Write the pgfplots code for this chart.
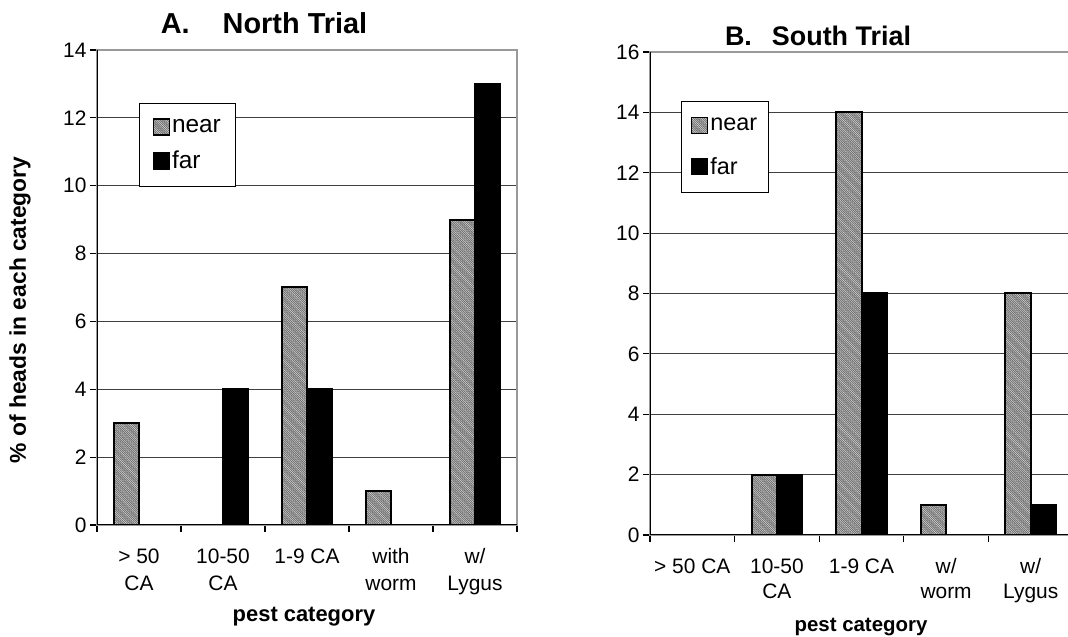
\documentclass[border=0pt]{standalone}
\usepackage{pgfplots}
\pgfplotsset{compat=1.18}
\usepackage{fontspec}
\setmainfont{Liberation Sans}
\usetikzlibrary{patterns}

\pgfdeclarepatternformonly{finehatch}{\pgfqpoint{-1pt}{-1pt}}{\pgfqpoint{3.2pt}{3.2pt}}{\pgfqpoint{2.2pt}{2.2pt}}{%
  \pgfsetlinewidth{0.8pt}%
  \pgfpathmoveto{\pgfqpoint{-0.5pt}{2.7pt}}%
  \pgfpathlineto{\pgfqpoint{2.7pt}{-0.5pt}}%
  \pgfusepath{stroke}}

\pgfplotsset{
  panel/.style={
    scale only axis,
    ybar,
    bar width=0.3,
    xmin=-0.5, xmax=4.5,
    ymin=0,
    xtick={-0.5,0.5,1.5,2.5,3.5,4.5},
    x tick label as interval,
    xtick pos=bottom, ytick pos=left,
    tick align=outside,
    major tick length=7bp,
    tick style={black, line width=1.2bp},
    ymajorgrids,
    major grid style={black!75, line width=1.1bp},
    axis line style={gray!80, line width=1.5bp},
    /pgf/number format/assume math mode=true,
    tick label style={font=\fontsize{21}{27}\selectfont},
    xticklabel style={align=center, anchor=north, yshift=-13bp},
    legend cell align=left,
    legend image code/.code={\draw[#1, line width=1.5bp] (0bp,-8bp) rectangle (16bp,8bp);},
  },
  nearbar/.style={draw=black, line width=2bp, fill=black!12,
    postaction={pattern=finehatch, pattern color=black!55},
    bar shift=-0.15},
  farbar/.style={draw=black, line width=2bp, fill=black, bar shift=0.15},
}

\begin{document}
\begin{tikzpicture}
\path[use as bounding box] (0,0) rectangle (1068bp,637bp);

% ---------- Panel A ----------
\begin{axis}[panel,
  at={(97bp,112bp)}, anchor=south west,
  width=420bp, height=475bp,
  ymax=14, ytick={0,2,...,14},
  xticklabels={{> 50\\CA},{10-50\\CA},{1-9 CA},{with\\worm},{w/\\Lygus}},
  legend style={at={(rel axis cs:0.1,0.888)}, anchor=north west,
    draw=black, line width=1bp, fill=white,
    font=\fontsize{24.5}{28}\selectfont,
    row sep=13bp, inner xsep=13bp, inner ysep=14bp,
    nodes={inner sep=2bp}},
]
\addplot[nearbar] coordinates {(0,3) (2,7) (3,1) (4,9)};
\addplot[farbar] coordinates {(1,4) (2,4) (4,13)};
\legend{near,far}
\draw[black, line width=1.5bp] (rel axis cs:0,1) -- (rel axis cs:0,0) -- (rel axis cs:1,0);
\end{axis}

% ---------- Panel B ----------
\begin{axis}[panel,
  at={(650bp,102bp)}, anchor=south west,
  width=423bp, height=483bp,
  ymax=16, ytick={0,2,...,16},
  xticklabels={{> 50 CA},{10-50\\CA},{1-9 CA},{w/\\worm},{w/\\Lygus}},
  tick label style={font=\fontsize{21}{25}\selectfont},
  legend style={at={(rel axis cs:0.074,0.899)}, anchor=north west,
    draw=black, line width=1bp, fill=white,
    font=\fontsize{23.5}{27}\selectfont,
    row sep=21bp, inner xsep=9bp, inner ysep=15bp,
    nodes={inner sep=2bp}},
]
\addplot[nearbar] coordinates {(1,2) (2,14) (3,1) (4,8)};
\addplot[farbar] coordinates {(1,2) (2,8) (4,1)};
\legend{near,far}
\draw[black, line width=1.5bp] (rel axis cs:0,1) -- (rel axis cs:0,0) -- (rel axis cs:1,0);
\end{axis}

% ---------- Titles and labels ----------
\node[font=\bfseries\fontsize{29}{34}\selectfont] at (264bp,614bp) {A.\hspace{33bp}North Trial};
\node[font=\bfseries\fontsize{27}{32}\selectfont] at (818bp,601bp) {B.\hspace{20bp}South Trial};
\node[font=\bfseries\fontsize{22.9}{27}\selectfont, rotate=90] at (20bp,327bp) {\% of heads in each category};
\node[font=\bfseries\fontsize{22}{26}\selectfont] at (304bp,20bp) {pest category};
\node[font=\bfseries\fontsize{20.5}{24}\selectfont] at (861bp,10bp) {pest category};
\end{tikzpicture}
\end{document}
